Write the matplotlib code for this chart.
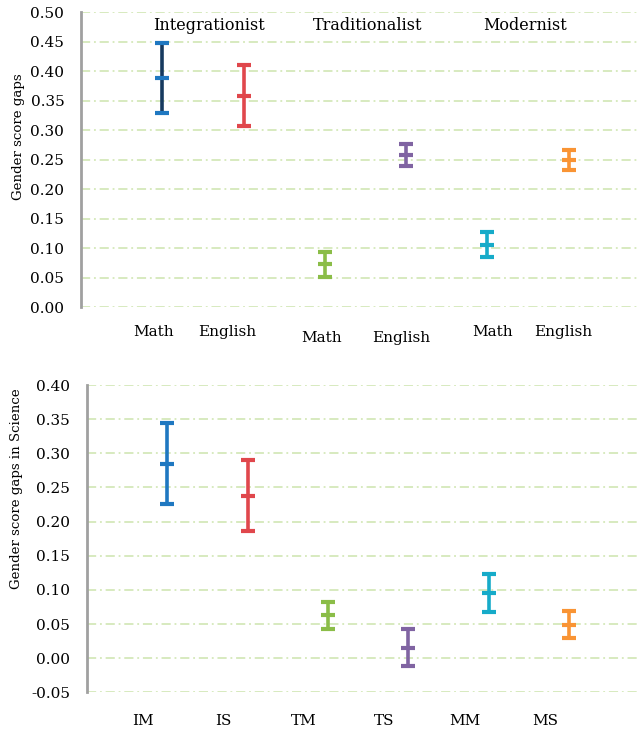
"""Gender score gap error bars by school type."""

import matplotlib
matplotlib.use("Agg")
import matplotlib.pyplot as plt
import numpy as np

plt.rcParams["font.family"] = ["DejaVu Serif"]

# top panel: Math / English per school type
GROUPS = ["Integrationist", "Traditionalist", "Modernist"]
TOP_LABELS = ["Math", "English", "Math", "English", "Math", "English"]
TOP_MID = [0.389, 0.359, 0.073, 0.259, 0.106, 0.249]
TOP_LOW = [0.330, 0.308, 0.051, 0.240, 0.085, 0.232]
TOP_HIGH = [0.448, 0.410, 0.094, 0.277, 0.128, 0.267]

# bottom panel: Science
BOT_LABELS = ["IM", "IS", "TM", "TS", "MM", "MS"]
BOT_MID = [0.285, 0.238, 0.063, 0.015, 0.095, 0.049]
BOT_LOW = [0.226, 0.186, 0.043, -0.012, 0.067, 0.029]
BOT_HIGH = [0.344, 0.290, 0.083, 0.043, 0.123, 0.069]

COLORS = ["#1f78c1", "#e0474c", "#8bbd48", "#8064a2", "#16abc9", "#f99434"]
TOP_LINE_COLORS = ["#163a5f"] + COLORS[1:]

GRID_COLOR = "#cde4ad"
FS = 11


def draw_bars(ax, mid, low, high, line_colors):
    x = np.arange(1, len(mid) + 1)
    for i in range(len(mid)):
        err = [[mid[i] - low[i]], [high[i] - mid[i]]]
        _, caps, bars = ax.errorbar(
            x[i], mid[i], yerr=err, fmt="_", color=COLORS[i], markersize=10,
            mew=3, ecolor=COLORS[i], elinewidth=2.6, capsize=5, capthick=3, zorder=3,
        )
        for b in bars:
            b.set_color(line_colors[i])
    return x


def style_axes(ax, ymin, ymax, step):
    ax.set_xlim(0, 6.88)
    ax.set_ylim(ymin, ymax)
    ticks = np.round(np.arange(ymin, ymax + step / 2, step), 2)
    ax.set_yticks(ticks)
    ax.set_yticklabels([f"{t:.2f}" for t in ticks], fontsize=FS)
    for t in ticks:
        ax.axhline(t, color=GRID_COLOR, linestyle=(0, (6, 2.5, 1.2, 2.5)), linewidth=1.1, zorder=1)
    for side in ("top", "right", "bottom"):
        ax.spines[side].set_visible(False)
    ax.spines["left"].set_color("#a0a0a0")
    ax.spines["left"].set_linewidth(2)
    ax.spines["left"].set_zorder(4)
    ax.tick_params(axis="y", length=0, pad=12)
    ax.tick_params(axis="x", length=0)
    ax.set_xticks([])


fig = plt.figure(figsize=(6.4, 7.29), dpi=100)

ax1 = fig.add_axes([0.1266, 0.5785, 0.8734, 0.4045])
style_axes(ax1, 0.0, 0.5, 0.05)
x1 = draw_bars(ax1, TOP_MID, TOP_LOW, TOP_HIGH, TOP_LINE_COLORS)
top_shift = [-0.11, -0.2, -0.04, -0.06, 0.06, -0.06]
top_drop = [18, 18, 22, 22, 18, 18]
for xi, lab, s, d in zip(x1, TOP_LABELS, top_shift, top_drop):
    ax1.annotate(lab, xy=(xi + s, 0), xytext=(0, -d), textcoords="offset points",
                 ha="center", va="center", fontsize=FS, annotation_clip=False)
head_shift = [0.58, 0.53, 0.46]
for g, name in enumerate(GROUPS):
    ax1.text(x1[2 * g] + head_shift[g], 0.478, name, ha="center", va="center", fontsize=FS + 0.5)
ax1.set_ylabel("Gender score gaps", fontsize=9.6)
ax1.yaxis.set_label_coords(-0.1, 0.58)

ax2 = fig.add_axes([0.1355, 0.0503, 0.8645, 0.4215])
style_axes(ax2, -0.05, 0.4, 0.05)
x2 = draw_bars(ax2, BOT_MID, BOT_LOW, BOT_HIGH, COLORS)
for xi, lab in zip(x2, BOT_LABELS):
    ax2.annotate(lab, xy=(xi - 0.3, -0.05), xytext=(0, -21), textcoords="offset points",
                 ha="center", va="center", fontsize=FS, annotation_clip=False)
ax2.set_ylabel("Gender score gaps in Science", fontsize=9.6)
ax2.yaxis.set_label_coords(-0.115, 0.662)

fig.savefig("out.png", dpi=100)
